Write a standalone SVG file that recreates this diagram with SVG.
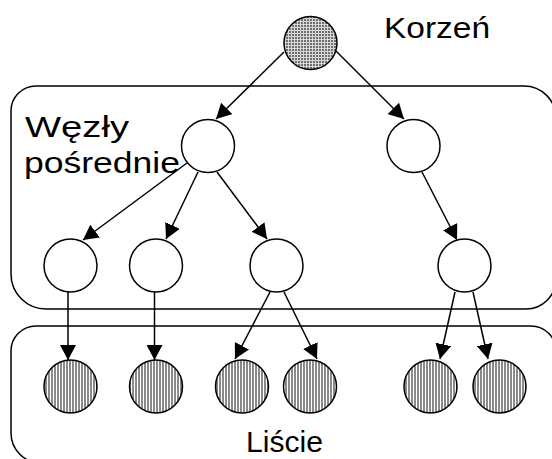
<svg xmlns="http://www.w3.org/2000/svg" width="552" height="459" viewBox="0 0 552 459">
  <style>
    .frame { fill: none; stroke: #000; stroke-width: 1.5; }
    .node { stroke: #000; stroke-width: 1.5; }
    .inner { fill: #fff; }
    .root { fill: url(#grid); }
    .leaf { fill: url(#stripes); }
    .edge { stroke: #000; stroke-width: 1.5; fill: none; marker-end: url(#arrow); }
    .label { font-family: "Liberation Sans", Arial, sans-serif; font-size: 30px; fill: #000; }
  </style>
  <defs>
    <!-- fine crosshatch used for the root -->
    <pattern id="grid" patternUnits="userSpaceOnUse" width="3" height="3">
      <rect width="3" height="3" fill="#707070"/>
      <rect width="3" height="1" fill="#d8d8d8"/>
      <rect width="1" height="3" fill="#d8d8d8"/>
    </pattern>
    <!-- vertical hatching used for leaves -->
    <pattern id="stripes" patternUnits="userSpaceOnUse" width="3" height="3">
      <rect width="3" height="3" fill="#fff"/>
      <rect width="2" height="3" fill="#8a8a8a"/>
    </pattern>
    <marker id="arrow" markerUnits="userSpaceOnUse" markerWidth="16" markerHeight="16" refX="15" refY="8" orient="auto">
      <path d="M0,0 L15,8 L0,16 z" fill="#000"/>
    </marker>
  </defs>

  <!-- grouping frames -->
  <g id="frames">
    <path id="frame-inner" class="frame" d="M11,111 A25,25 0 0 1 36,86 L524,86 A32,32 0 0 1 556,118 L556,279 A30,30 0 0 1 526,309 L46,309 A35,35 0 0 1 11,274 Z"/>
    <path id="frame-leaves" class="frame" d="M11,351 A25,25 0 0 1 36,326 L531,326 A25,25 0 0 1 556,351 L556,463 L41,463 A30,30 0 0 1 11,433 Z"/>
  </g>

  <!-- connectors -->
  <g id="connectors">
    <line class="edge" x1="284" y1="52" x2="216" y2="119"/>
    <line class="edge" x1="336" y1="51" x2="404" y2="119"/>
    <line class="edge" x1="187" y1="163" x2="83" y2="240"/>
    <line class="edge" x1="198" y1="172" x2="166" y2="239"/>
    <line class="edge" x1="217" y1="172" x2="267" y2="239"/>
    <line class="edge" x1="422" y1="172" x2="457" y2="240"/>
    <line class="edge" x1="68" y1="292" x2="68" y2="360"/>
    <line class="edge" x1="154.5" y1="292" x2="154.5" y2="360"/>
    <line class="edge" x1="270" y1="292" x2="235" y2="359"/>
    <line class="edge" x1="284" y1="292" x2="317" y2="359"/>
    <line class="edge" x1="455" y1="292" x2="440" y2="359"/>
    <line class="edge" x1="473" y1="292" x2="488" y2="359"/>
  </g>

  <!-- root -->
  <g id="root"><circle class="node root" cx="310.5" cy="43" r="26.5"/></g>

  <!-- intermediate nodes -->
  <g id="n1"><circle class="node inner" cx="208" cy="146" r="26.5"/></g>
  <g id="n2"><circle class="node inner" cx="413.5" cy="146" r="26.5"/></g>
  <g id="n3"><circle class="node inner" cx="70.5" cy="265.5" r="26.5"/></g>
  <g id="n4"><circle class="node inner" cx="156" cy="265.5" r="26.5"/></g>
  <g id="n5"><circle class="node inner" cx="276.5" cy="265.5" r="26.5"/></g>
  <g id="n6"><circle class="node inner" cx="464.5" cy="265.5" r="26.5"/></g>

  <!-- leaves -->
  <g id="l1"><circle class="node leaf" cx="70.5" cy="386.5" r="26.5"/></g>
  <g id="l2"><circle class="node leaf" cx="156" cy="386.5" r="26.5"/></g>
  <g id="l3"><circle class="node leaf" cx="242" cy="386.5" r="26.5"/></g>
  <g id="l4"><circle class="node leaf" cx="310" cy="386.5" r="26.5"/></g>
  <g id="l5"><circle class="node leaf" cx="430.5" cy="386.5" r="26.5"/></g>
  <g id="l6"><circle class="node leaf" cx="499.5" cy="386.5" r="26.5"/></g>

  <!-- labels -->
  <g id="labels">
    <text class="label" x="384" y="38" textLength="106" lengthAdjust="spacingAndGlyphs">Korzeń</text>
    <text class="label" x="25" y="137" textLength="104" lengthAdjust="spacingAndGlyphs">Węzły</text>
    <text class="label" x="24" y="173" textLength="156" lengthAdjust="spacingAndGlyphs">pośrednie</text>
    <text class="label" x="246" y="452" textLength="77" lengthAdjust="spacingAndGlyphs">Liście</text>
  </g>
</svg>
